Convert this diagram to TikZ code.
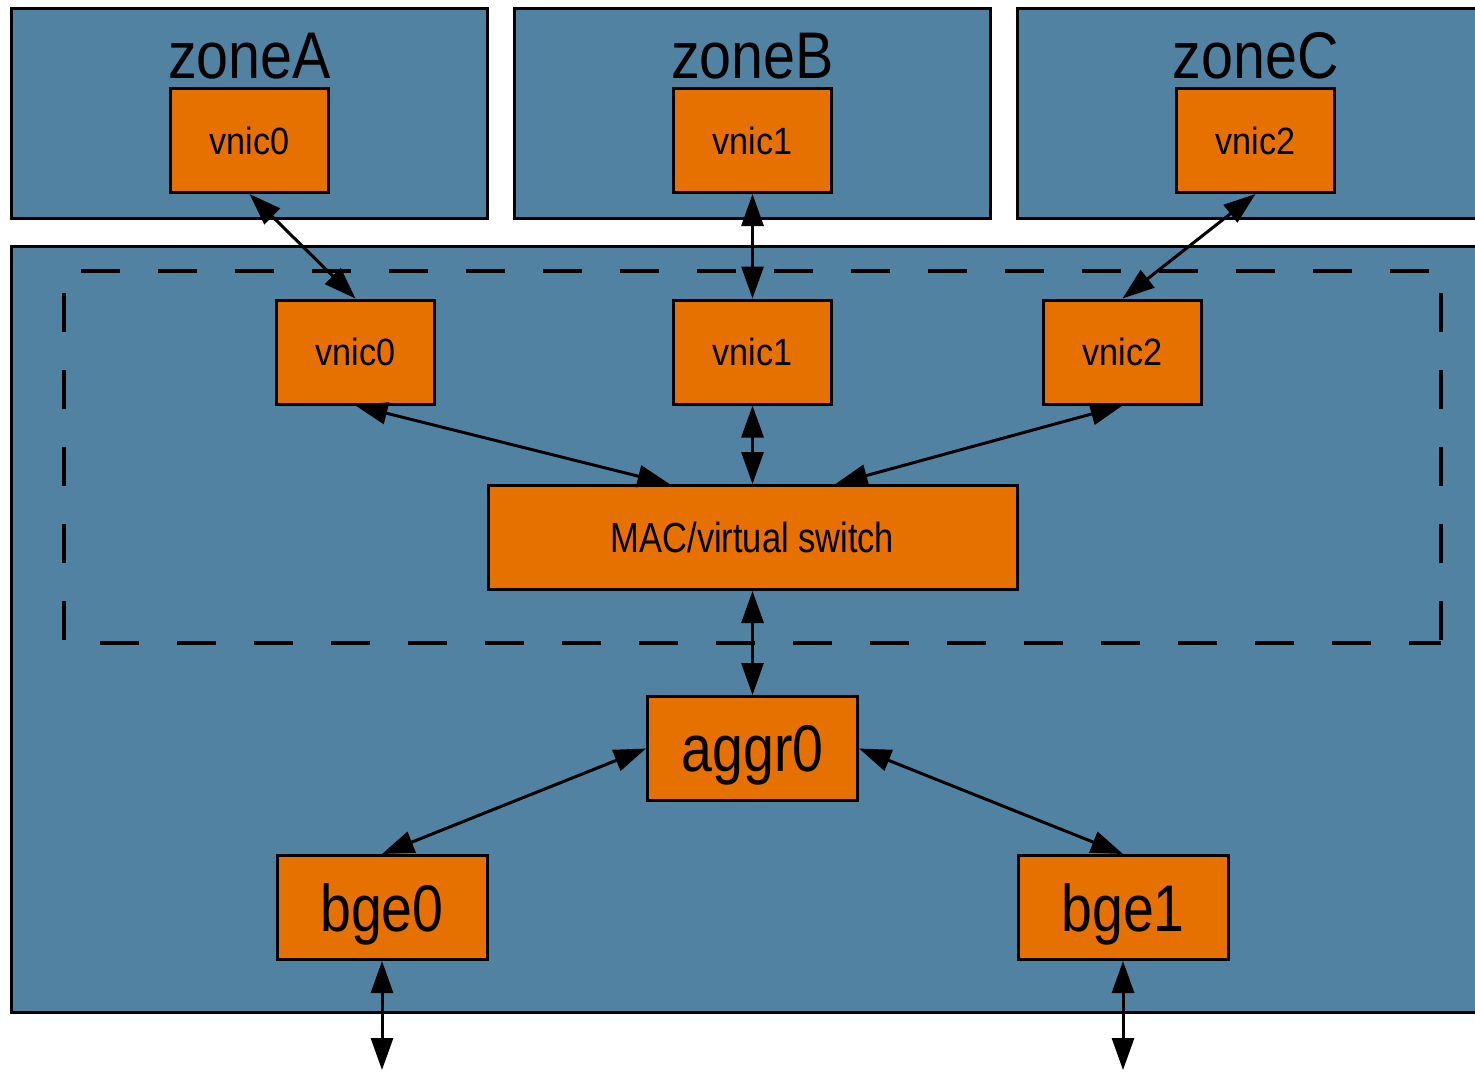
\documentclass[tikz,border=0pt]{standalone}
\usepackage{fontspec}
\setmainfont{Liberation Sans}
\usetikzlibrary{arrows.meta}

\begin{document}
\begin{tikzpicture}[x=0.5pt,y=-0.5pt,
  zonebox/.style={draw,line width=1.5pt,fill=steel,minimum width=238pt,minimum height=105pt},
  nic/.style={draw,line width=1.5pt,fill=rust,text depth=0pt,minimum width=79pt,minimum height=52pt,font=\fontsize{19}{19}\selectfont},
  bignic/.style={nic,minimum width=105pt,font=\fontsize{33}{33}\selectfont},
  groupline/.style={line width=2pt,dash pattern=on 19.5pt off 19pt},
  link/.style={line width=1.5pt,{Triangle[length=16pt,width=11pt]}-{Triangle[length=16pt,width=11pt]}}]
\definecolor{steel}{HTML}{5282A2}
\definecolor{rust}{HTML}{E67000}
\clip (0,0) rectangle (1475,1071);
\fill[white] (0,0) rectangle (1475,1071);
% the three zones, each with its own vnic
  \foreach \z/\n/\xc in {A/0/249.5,B/1/752.5,C/2/1255.5}
  {  \node [zonebox] (zone\z) at (\xc,113.5) {};
     \node [anchor=base,font=\fontsize{33}{33}\selectfont] (title\z) at (\xc,78) {\scalebox{0.87}[1]{zone\z}};
     \node [nic] (zvnic\n) at (\xc,140.5) {\scalebox{0.9}[1]{vnic\n}};}
% global zone
\node [draw,line width=1.5pt,fill=steel,minimum width=741pt,minimum height=383pt] (host) at (752.5,629.5) {};
% dashed group round the vnics and the switch
\coordinate (gnw) at (64,271);
\coordinate (gne) at (1441,271);
\coordinate (gsw) at (64,643);
\coordinate (gse) at (1441,643);
  \foreach \a/\b/\ph in {gnw/gne/30pt,gnw/gsw/27.5pt,gne/gse/27.5pt,gsw/gse/20.5pt}
  {  \draw [groupline,dash phase=\ph] (\a) -- (\b);}
  \foreach \n/\xc in {0/355.5,1/752.5,2/1122.5}
  {  \node [nic] (hvnic\n) at (\xc,352) {\scalebox{0.9}[1]{vnic\n}};}
\node [nic,minimum width=264.5pt,font=\fontsize{21}{21}\selectfont] (switch) at (752.5,537.5) {\scalebox{0.82}[1]{MAC/virtual switch}};
\node [bignic] (aggr0) at (752.5,748.5) {\scalebox{0.84}[1]{aggr0}};
\node [bignic] (bge0) at (382,907.5) {\scalebox{0.84}[1]{bge0}};
\node [bignic] (bge1) at (1123,907.5) {\scalebox{0.84}[1]{bge1}};
\coordinate (wire0) at (382,1070);
\coordinate (wire1) at (1123,1070);
% links
  \foreach \n in {0,1,2}
  {  \draw [link] (zvnic\n.south) -- (hvnic\n.north);}
\draw [link] (hvnic0.south) -- ([xshift=-41.5pt]switch.north);
\draw [link] (hvnic1.south) -- (switch.north);
\draw [link] (hvnic2.south) -- ([xshift=41.5pt]switch.north);
\draw [link] (switch.south) -- (aggr0.north);
\draw [link] (aggr0.west) -- (bge0.north);
\draw [link] (aggr0.east) -- (bge1.north);
\draw [link] (bge0.south) -- (wire0);
\draw [link] (bge1.south) -- (wire1);
\end{tikzpicture}
\end{document}
